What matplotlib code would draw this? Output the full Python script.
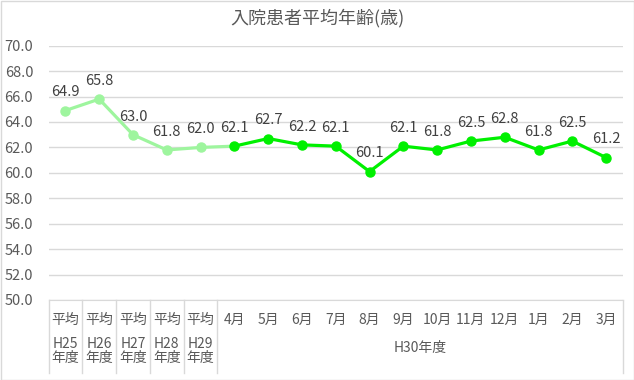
import matplotlib.pyplot as plt
import matplotlib.transforms as mtransforms
from matplotlib.patches import Rectangle

plt.rcParams['font.family'] = ['Noto Sans CJK JP', 'DejaVu Sans']

# data
top_labels = ["平均", "平均", "平均", "平均", "平均",
              "4月", "5月", "6月", "7月", "8月", "9月", "10月", "11月", "12月", "1月", "2月", "3月"]
year_labels = ["H25\n年度", "H26\n年度", "H27\n年度", "H28\n年度", "H29\n年度"]
month_group = "H30年度"
avg_values = [64.9, 65.8, 63.0, 61.8, 62.0]
month_values = [62.1, 62.7, 62.2, 62.1, 60.1, 62.1, 61.8, 62.5, 62.8, 61.8, 62.5, 61.2]
title = "入院患者平均年齢(歳)"

light = "#9ef59e"
bright = "#00f000"
grid_c = "#d9d9d9"
txt = "#595959"

W, H = 634, 380
fig = plt.figure(figsize=(W / 100, H / 100), dpi=100)
ax = fig.add_axes([48.5 / W, 1 - 300 / H, (623 - 48.5) / W, (300 - 45.7) / H])

n_avg = len(avg_values)
xs_avg = list(range(n_avg))
xs_mon = list(range(n_avg, n_avg + len(month_values)))

# light line runs up to the first month
ax.plot(xs_avg + [xs_mon[0]], avg_values + [month_values[0]], color=light, lw=2.3, zorder=3)
ax.plot(xs_avg, avg_values, 'o', color=light, ms=6.5, zorder=4)
ax.plot(xs_mon, month_values, '-o', color=bright, lw=2.3, ms=6.5, zorder=5)

for x, v in zip(xs_avg + xs_mon, avg_values + month_values):
    ax.annotate(f"{v:.1f}", (x, v), xytext=(0, 8), textcoords="offset points",
                ha="center", va="bottom", fontsize=10.5, color="#404040")

ax.set_xlim(-0.5, len(top_labels) - 0.5)
ax.set_ylim(50, 70)
ax.set_yticks([50 + 2 * i for i in range(11)])
ax.set_yticklabels([f"{50 + 2 * i:.1f}" for i in range(11)])
ax.tick_params(axis='y', length=0, pad=11, labelsize=10.5, labelcolor=txt)
ax.set_xticks([])
ax.grid(axis='y', color=grid_c, lw=1)
ax.set_axisbelow(True)
for s in ["top", "right", "left"]:
    ax.spines[s].set_visible(False)
ax.spines["bottom"].set_color(grid_c)

# category table under the axis
trans = mtransforms.blended_transform_factory(ax.transData, fig.transFigure)
y_top = 1 - 300 / H
y_bot = 1 - 373 / H
for xb in [-0.5, 0.5, 1.5, 2.5, 3.5, 4.5, len(top_labels) - 0.5]:
    ax.plot([xb, xb], [y_top, y_bot], color=grid_c, lw=1, transform=trans, clip_on=False)

for i, lab in enumerate(top_labels):
    ax.text(i, 1 - 320 / H, lab, transform=trans, ha="center", va="center",
            fontsize=10, color=txt)
for i, lab in enumerate(year_labels):
    ax.text(i, 1 - 351 / H, lab, transform=trans, ha="center", va="center",
            fontsize=10, color=txt, linespacing=1.05)
ax.text((xs_mon[0] + xs_mon[-1]) / 2, 1 - 348 / H, month_group, transform=trans,
        ha="center", va="center", fontsize=10, color=txt)

fig.text(0.5, 1 - 18 / H, title, ha="center", va="center", fontsize=13, color=txt)
fig.patches.append(Rectangle((0.5 / W, 0.5 / H), 1 - 1 / W, 1 - 1 / H, transform=fig.transFigure,
                             fill=False, edgecolor=grid_c, lw=1))

fig.savefig("out.png", dpi=100)
